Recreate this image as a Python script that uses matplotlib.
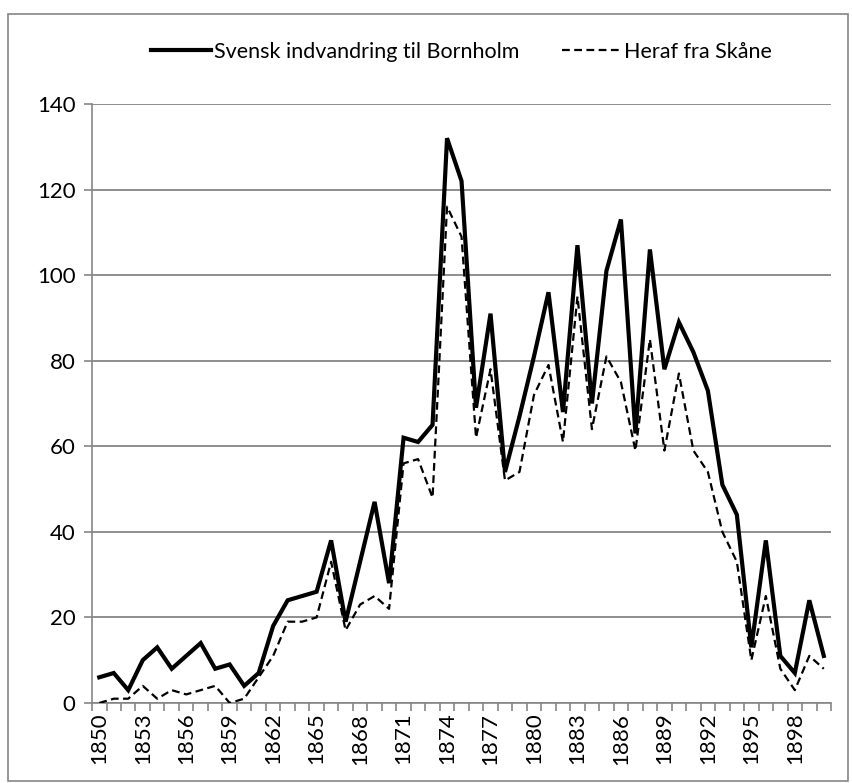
import matplotlib.pyplot as plt
from matplotlib.patches import Rectangle

plt.rcParams['font.family'] = ['Lato', 'DejaVu Sans']

years = list(range(1850, 1901))

# Svensk indvandring til Bornholm
total = [6, 7, 3, 10, 13, 8, 11, 14, 8, 9,
         4, 7, 18, 24, 25, 26, 38, 19, 33, 47,
         28, 62, 61, 65, 132, 122, 69, 91, 54, 67,
         81, 96, 68, 107, 70, 101, 113, 63, 106, 78,
         89, 82, 73, 51, 44, 13, 38, 11, 7, 24,
         11]

# Heraf fra Skåne
skaane = [0, 1, 1, 4, 1, 3, 2, 3, 4, 0,
          1, 6, 11, 19, 19, 20, 33, 17, 23, 25,
          22, 56, 57, 48, 116, 109, 62, 78, 52, 54,
          72, 79, 61, 95, 64, 81, 75, 59, 85, 59,
          77, 59, 54, 40, 33, 10, 25, 8, 3, 11,
          8]

labels = [str(y) for y in years[::3]]

grey = '#868686'

fig = plt.figure(figsize=(8.52, 7.83), dpi=100)
ax = fig.add_axes([0.108, 0.1022, 0.8674, 0.765])

x = list(range(len(years)))
ax.plot(x, total, color='black', lw=3.0, solid_joinstyle='miter',
        label='Svensk indvandring til Bornholm', zorder=3)
ax.plot(x, skaane, color='black', lw=1.6, dashes=(3.5, 2),
        label='Heraf fra Skåne', zorder=3)

ax.set_xlim(-0.5, len(years) - 0.5)
ax.set_ylim(0, 140)
ax.set_yticks(range(0, 141, 20))
ax.yaxis.grid(True, color=grey, lw=1.3)
ax.set_axisbelow(True)

ax.set_xticks(x[::3])
ax.set_xticklabels(labels, rotation=90)
ax.set_xticks([i - 0.5 for i in range(len(years) + 1)], minor=True)
ax.tick_params(axis='x', which='major', length=0, pad=7, labelsize=16)
ax.tick_params(axis='x', which='minor', length=6, color=grey, width=1.2)
ax.tick_params(axis='y', length=6, color=grey, width=1.2, labelsize=16, pad=6)

for s in ['top', 'right']:
    ax.spines[s].set_visible(False)
ax.spines['left'].set_color(grey)
ax.spines['bottom'].set_color(grey)
ax.spines['left'].set_linewidth(1.2)
ax.spines['bottom'].set_linewidth(1.2)

fig.legend(loc='center', bbox_to_anchor=(0.542, 0.934), ncol=2, frameon=False,
           fontsize=15.5, handlelength=2.8, handletextpad=0.1, columnspacing=2.0)

fig.patches.append(Rectangle((0.009, 0.003), 0.986, 0.979, transform=fig.transFigure,
                             fill=False, edgecolor=grey, lw=1.2))

fig.savefig('out.png', dpi=100)
